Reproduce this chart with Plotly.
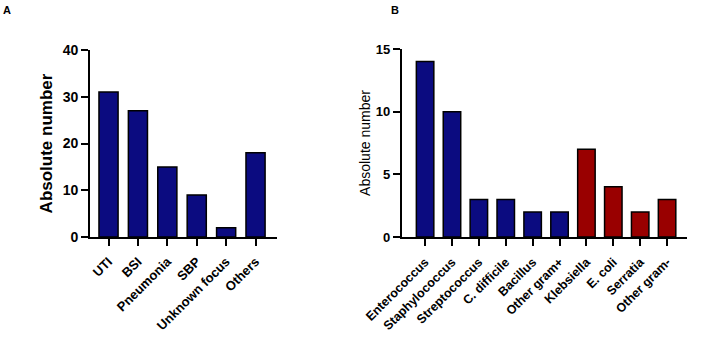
import plotly.graph_objects as go

# Panel A data
focus_categories = ["UTI", "BSI", "Pneumonia", "SBP", "Unknown focus", "Others"]
focus_counts = [31, 27, 15, 9, 2, 18]

# Panel B data
pathogen_categories = ["Enterococcus", "Staphylococcus", "Streptococcus", "C. difficile",
                       "Bacillus", "Other gram+", "Klebsiella", "E. coli", "Serratia", "Other gram-"]
pathogen_counts = [14, 10, 3, 3, 2, 2, 7, 4, 2, 3]
pathogen_group = ["pos"] * 6 + ["neg"] * 4

a_ticks = [0, 10, 20, 30, 40]
b_ticks = [0, 5, 10, 15]

NAVY = "#0b0b80"
RED = "#990000"
FONT = "Liberation Sans, Arial, sans-serif"
W, H = 709, 339

def fx(px):
    return px / W

def fy(py):
    return (H - py) / H

fig = go.Figure()
fig.add_trace(go.Bar(
    x=list(range(len(focus_categories))), y=focus_counts,
    marker=dict(color=NAVY, line=dict(color="black", width=1.5)),
    width=0.65, xaxis="x", yaxis="y", showlegend=False))
fig.add_trace(go.Bar(
    x=list(range(len(pathogen_categories))), y=pathogen_counts,
    marker=dict(color=[NAVY if g == "pos" else RED for g in pathogen_group],
                line=dict(color="black", width=1.5)),
    width=0.65, xaxis="x2", yaxis="y2", showlegend=False))

axis_common = dict(showline=True, linecolor="black", linewidth=1.8, ticks="outside",
                   ticklen=7, tickwidth=1.8, tickcolor="black", showgrid=False,
                   zeroline=False, automargin=False)

fig.update_layout(
    width=W, height=H,
    margin=dict(l=0, r=0, t=0, b=0),
    paper_bgcolor="white", plot_bgcolor="white",
    font=dict(family=FONT, color="black"),
    xaxis=dict(domain=[fx(90), fx(277)], range=[-0.63, 5.73],
               tickmode="array", tickvals=list(range(len(focus_categories))),
               ticktext=[f"<b>{c}</b>" for c in focus_categories],
               tickangle=-45, tickfont=dict(size=13, family=FONT), anchor="y",
               ticklabelstandoff=3, **axis_common),
    yaxis=dict(domain=[fy(237), fy(50)], range=[0, 40], tickvals=a_ticks,
               ticktext=[f"<b>{t}</b>" for t in a_ticks],
               tickfont=dict(size=14, family=FONT), anchor="x",
               title=dict(text="<b>Absolute number</b>", font=dict(size=17, family=FONT), standoff=6),
               **axis_common),
    xaxis2=dict(domain=[fx(401.7), fx(686.7)], range=[-0.87, 9.73],
                tickmode="array", tickvals=list(range(len(pathogen_categories))),
                ticktext=[f"<b>{c}</b>" for c in pathogen_categories],
                tickangle=-45, tickfont=dict(size=12.5, family=FONT), anchor="y2",
                ticklabelstandoff=4, **axis_common),
    yaxis2=dict(domain=[fy(237), fy(49)], range=[0, 15], tickvals=b_ticks,
                ticktext=[f"<b>{t}</b>" for t in b_ticks],
                tickfont=dict(size=13, family=FONT), anchor="x2",
                title=dict(text="Absolute number", font=dict(size=14, family=FONT), standoff=2),
                **axis_common),
    bargap=0.35,
    annotations=[
        dict(text="<b>A</b>", x=fx(1), y=fy(2), xref="paper", yref="paper",
             xanchor="left", yanchor="top", showarrow=False, font=dict(size=11, family=FONT)),
        dict(text="<b>B</b>", x=fx(389), y=fy(2), xref="paper", yref="paper",
             xanchor="left", yanchor="top", showarrow=False, font=dict(size=11, family=FONT)),
    ],
)

fig.write_html("out.html", config={"displayModeBar": False},
               post_script="document.body.style.margin='0';document.body.style.overflow='hidden';")
